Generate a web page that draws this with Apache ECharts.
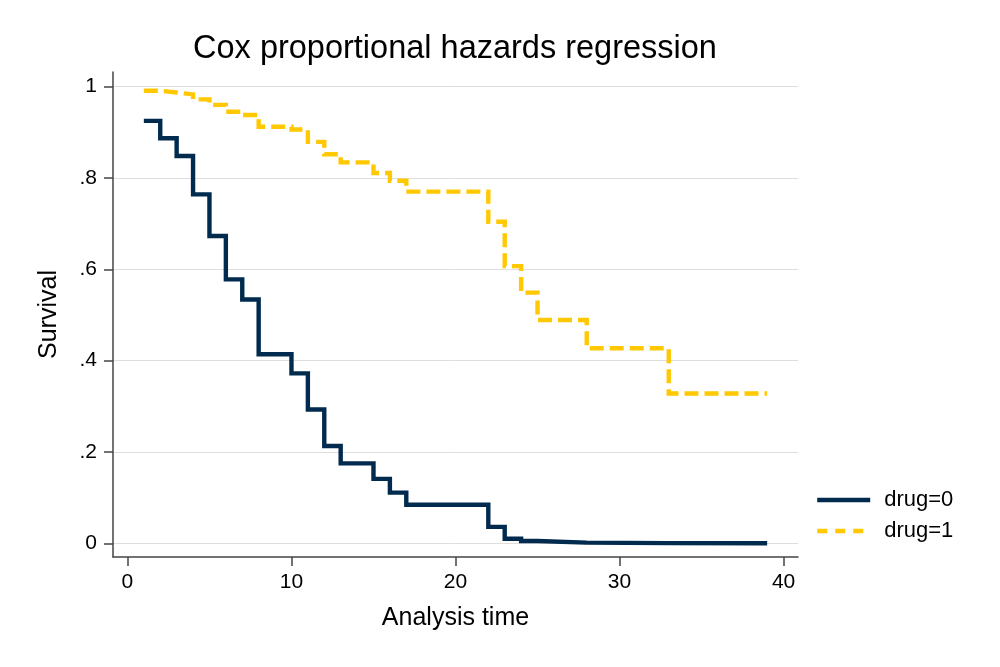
<!DOCTYPE html>
<html>
<head>
<meta charset="utf-8">
<script src="https://cdn.jsdelivr.net/npm/echarts@6/dist/echarts.min.js"></script>
<style>html,body{margin:0;padding:0;background:#fff}#c{width:1000px;height:667px}</style>
</head>
<body>
<div id="c"></div>
<script>
// Analysis times (failure times) and predicted survival per group
const times0 = [1, 2, 3, 4, 5, 6, 7, 8, 10, 11, 12, 13, 15, 16, 17, 22, 23, 24, 25, 28, 33, 39];
const surv0  = [0.925, 0.887, 0.848, 0.764, 0.673, 0.578, 0.534, 0.414, 0.372, 0.293, 0.213, 0.175, 0.141, 0.111, 0.0845, 0.036, 0.010, 0.005, 0.0015, 0.0004, 0.00003, 0.00003];
const times1 = [1, 2, 3, 4, 5, 6, 7, 8, 10, 11, 12, 13, 15, 16, 17, 22, 23, 24, 25, 28, 33, 39];
const surv1  = [0.991, 0.987, 0.983, 0.972, 0.960, 0.945, 0.938, 0.912, 0.906, 0.879, 0.852, 0.834, 0.811, 0.794, 0.770, 0.704, 0.607, 0.549, 0.489, 0.427, 0.328, 0.328];
const seriesNames = ['drug=0', 'drug=1'];
const xTicks = [0, 10, 20, 30, 40];
const yTicks = [0, 0.2, 0.4, 0.6, 0.8, 1];
const yTickLabels = ['0', '.2', '.4', '.6', '.8', '1'];
const titleText = 'Cox proportional hazards regression';
const xTitle = 'Analysis time';
const yTitle = 'Survival';

const FONT = '"Liberation Sans", Arial, Helvetica, sans-serif';
const axisColor = '#444';
const navy = '#002B4E';
const gold = '#FFC800';
const chart = echarts.init(document.getElementById('c'), null, {renderer: 'canvas'});
chart.setOption({
  backgroundColor: '#fff',
  animation: false,
  title: {
    text: titleText,
    left: 450, top: 28, textAlign: 'center',
    textStyle: {fontFamily: FONT, fontSize: 32.5, fontWeight: 'normal', color: '#000'}
  },
  legend: {
    orient: 'vertical',
    left: 810, top: 484,
    itemWidth: 53, itemHeight: 14, itemGap: 9,
    textStyle: {fontFamily: FONT, fontSize: 22, color: '#000', padding: [0, 0, 0, 9]},
    itemStyle: {color: 'transparent', borderWidth: 0, opacity: 0},
    data: [
      {name: seriesNames[0], lineStyle: {color: navy, width: 4.4, type: 'solid'}},
      {name: seriesNames[1], lineStyle: {color: gold, width: 4.4, type: [10, 8]}}
    ]
  },
  grid: {left: 113, right: 202, top: 72, bottom: 110, containLabel: false},
  xAxis: {
    type: 'value', min: -0.88, max: 40.88,
    name: xTitle, nameLocation: 'middle', nameGap: 49,
    nameTextStyle: {fontFamily: FONT, fontSize: 25, color: '#000'},
    axisLine: {onZero: false, lineStyle: {color: axisColor, width: 1.5}},
    axisTick: {show: true, length: 9, customValues: xTicks, lineStyle: {color: axisColor, width: 1.5}},
    axisLabel: {customValues: xTicks, margin: 15, fontFamily: FONT, fontSize: 21, color: '#000',
      formatter: v => String(v)},
    splitLine: {show: false}
  },
  yAxis: {
    type: 'value', min: -0.030, max: 1.032,
    name: yTitle, nameLocation: 'middle', nameGap: 51, nameRotate: 90,
    nameTextStyle: {fontFamily: FONT, fontSize: 25, color: '#000'},
    axisLine: {show: true, onZero: false, lineStyle: {color: axisColor, width: 1.5}},
    axisTick: {show: true, length: 9, customValues: yTicks, lineStyle: {color: axisColor, width: 1.5}},
    axisLabel: {customValues: yTicks, margin: 16, fontFamily: FONT, fontSize: 21, color: '#000',
      formatter: v => { const i = yTicks.findIndex(t => Math.abs(t - v) < 1e-6); return i >= 0 ? yTickLabels[i] : ''; }},
    splitLine: {show: true, lineStyle: {color: '#dedede', width: 1}}
  },
  series: [
    {
      name: seriesNames[0], type: 'line', step: 'end', symbol: 'none', showSymbol: false,
      data: times0.map((t, i) => [t, surv0[i]]),
      lineStyle: {color: navy, width: 4.4, join: 'miter', cap: 'butt'},
      itemStyle: {color: navy}, z: 3
    },
    {
      name: seriesNames[1], type: 'line', step: 'end', symbol: 'none', showSymbol: false,
      data: times1.map((t, i) => [t, surv1[i]]),
      lineStyle: {color: gold, width: 4.4, type: [14, 6], join: 'miter', cap: 'butt'},
      itemStyle: {color: gold}, z: 2
    }
  ]
});
</script>
</body>
</html>
